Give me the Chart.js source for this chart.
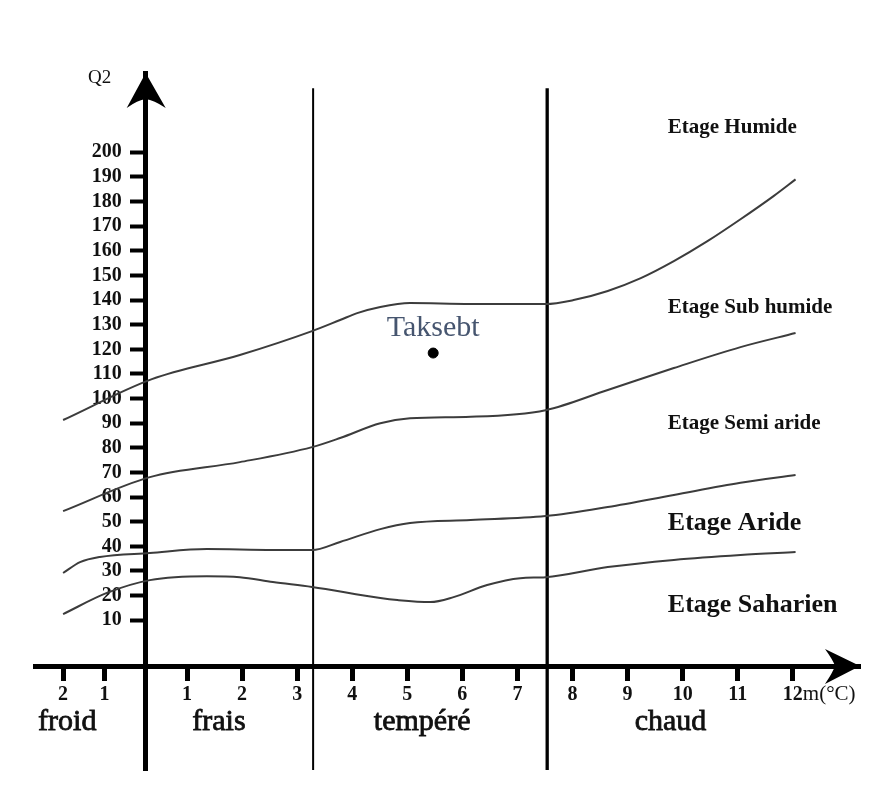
<!DOCTYPE html>
<html lang="fr">
<head>
<meta charset="utf-8">
<title>Climagramme d'Emberger – Taksebt</title>
<script src="https://cdn.jsdelivr.net/npm/chart.js@4.4.1/dist/chart.umd.min.js"></script>
<style>
html,body{margin:0;padding:0;background:#fff;}
#wrap{position:relative;width:878px;height:807px;}
</style>
</head>
<body>
<div id="wrap"><canvas id="chart"></canvas></div>
<script>
// ---------------- data ----------------
// m (°C) ticks : the two left ticks are negative values (-2, -1)
const xTickValues = [-2, -1, 1, 2, 3, 4, 5, 6, 7, 8, 9, 10, 11, 12];
const xTickLabels = ['2', '1', '1', '2', '3', '4', '5', '6', '7', '8', '9', '10', '11', '12'];
// Q2 ticks
const yTickValues = [10, 20, 30, 40, 50, 60, 70, 80, 90, 100, 110, 120, 130, 140, 150, 160, 170, 180, 190, 200];
const yTickLabels = ['10', '20', '30', '40', '50', '60', '70', '80', '90', '100', '110', '120', '130', '140', '150', '160', '170', '180', '190', '200'];

// limit Humide / Sub humide
const limHumideM  = [-2, 0.15, 1.96, 3.27, 3.78, 4.09, 4.51, 5.05, 6.15, 7.51, 8.02, 8.64, 9.24, 9.84, 10.45, 11.05, 11.65, 12.05];
const limHumideQ2 = [91.3, 107.9, 117.7, 127.4, 131.9, 134.7, 137.2, 138.8, 138.4, 138.4, 140.0, 143.7, 148.9, 155.8, 163.9, 172.8, 182.2, 189.0];
// limit Sub humide / Semi aride
const limSubHumM  = [-2, 0.10, 1.96, 3.27, 3.78, 4.51, 5.05, 6.15, 7.51, 8.64, 9.84, 11.05, 12.05];
const limSubHumQ2 = [54.3, 68.1, 74.2, 80.3, 84.0, 90.0, 92.0, 92.6, 95.3, 103.5, 112.4, 120.9, 126.6];
// limit Semi aride / Aride
const limSemiAridM  = [-2, -1.59, -1.11, 0.10, 1.36, 2.56, 3.27, 3.78, 4.51, 5.05, 6.15, 7.51, 8.64, 9.84, 11.05, 12.05];
const limSemiAridQ2 = [29.2, 33.6, 35.7, 37.3, 38.9, 38.5, 38.5, 41.8, 47.0, 49.5, 50.7, 52.3, 56.0, 60.9, 65.8, 69.0];
// limit Aride / Saharien
const limAridM  = [-2, -0.94, 0.10, 1.36, 1.96, 2.56, 3.27, 4.51, 4.82, 5.42, 5.84, 6.45, 7.05, 7.51, 8.64, 9.84, 11.05, 12.05];
const limAridQ2 = [12.5, 21.1, 26.3, 27.9, 27.5, 25.5, 23.5, 19.0, 18.2, 17.4, 19.4, 24.3, 27.1, 27.5, 31.6, 34.5, 36.5, 37.7];

// station
const stationName = 'Taksebt';
const stationM = 5.47;
const stationQ2 = 118.5;

// thermal zones (limits as drawn) and names
const zoneLimitsM = [3.29, 7.54];
const zoneNames = ['froid', 'frais', 'tempéré', 'chaud'];
const etageNames = ['Etage Humide', 'Etage Sub humide', 'Etage Semi aride', 'Etage Aride', 'Etage Saharien'];

// axis extents
const xMin = -2.68, xMax = 13.22;
const yMin = -50.8, yMax = 232.2;
const xAxisAtQ2 = -8.6;

// ---------------- hand-drawn m axis: values below 1 are compressed ----------------
const NEG_COMPRESS = 0.75;
const fwd = v => (v >= 1 ? v : 1 - NEG_COMPRESS * (1 - v));
const inv = f => (f >= 1 ? f : 1 - (1 - f) / NEG_COMPRESS);
class EmbergerScale extends Chart.LinearScale {
  determineDataLimits() {
    super.determineDataLimits();
    this.min = fwd(this.min);
    this.max = fwd(this.max);
  }
  getPixelForValue(v) {
    if (v === null || v === undefined) return NaN;
    return super.getPixelForValue(fwd(v));
  }
  getValueForPixel(p) {
    return inv(super.getValueForPixel(p));
  }
}
EmbergerScale.id = 'emberger';
EmbergerScale.defaults = {};

// Q2 axis placed at m = 0: keep its labels left of the tick marks
class CrossingYScale extends Chart.LinearScale {
  _computeLabelItems(chartArea) {
    const items = super._computeLabelItems(chartArea);
    const o = this.options;
    const shift = (o.grid.drawTicks ? o.grid.tickLength : 0) + o.ticks.padding;
    items.forEach(it => { it.options.translation = [it.options.translation[0] - shift, it.options.translation[1]]; });
    return items;
  }
}
CrossingYScale.id = 'crossingY';
CrossingYScale.defaults = {};
Chart.register(EmbergerScale, CrossingYScale);

// ---------------- chart ----------------
const SERIF = '"Liberation Serif", "Times New Roman", serif';
const pts = (xs, ys) => xs.map((x, i) => ({ x: x, y: ys[i] }));
const curveStyle = {
  type: 'line', borderColor: '#3c3c3c', borderWidth: 2, pointRadius: 0,
  fill: false, cubicInterpolationMode: 'monotone'
};

const labelLayout = {
  etageM: 9.73,
  etageQ2: [207.8, 134.7, 87.6, 46.6, 13.3],
  etageSize: [21, 21, 21, 26, 26],
  zoneM: [-1.9, 1.58, 5.27, 9.78],
  zoneQ2: -34.6
};

const decorPlugin = {
  id: 'decor',
  beforeDraw(chart) {
    const c = chart.ctx;
    c.save();
    c.fillStyle = '#ffffff';
    c.fillRect(0, 0, chart.width, chart.height);
    c.restore();
  },
  afterDraw(chart) {
    const c = chart.ctx;
    const xs = chart.scales.x, ys = chart.scales.y, area = chart.chartArea;
    const ax = xs.getPixelForValue(0);
    const ay = ys.getPixelForValue(xAxisAtQ2);
    c.save();
    c.fillStyle = '#000';
    // arrow on Q2 axis
    c.beginPath();
    c.moveTo(ax, area.top);
    c.lineTo(ax + 20, area.top + 35);
    c.quadraticCurveTo(ax + 8, area.top + 27, ax, area.top + 26);
    c.quadraticCurveTo(ax - 8, area.top + 27, ax - 19, area.top + 35);
    c.closePath();
    c.fill();
    // arrow on m axis
    c.beginPath();
    c.moveTo(area.right, ay);
    c.lineTo(area.right - 35, ay - 17);
    c.quadraticCurveTo(area.right - 27, ay - 6, area.right - 25, ay);
    c.quadraticCurveTo(area.right - 27, ay + 6, area.right - 35, ay + 18);
    c.closePath();
    c.fill();

    c.fillStyle = '#111';
    c.strokeStyle = '#111';
    c.textBaseline = 'alphabetic';
    // axis titles
    c.font = '19px ' + SERIF;
    c.textAlign = 'center';
    c.fillText('Q2', ax - 46, area.top + 10);
    c.font = '21px ' + SERIF;
    c.textAlign = 'left';
    c.fillText('m(°C)', xs.getPixelForValue(12) + 10, ay + 34);

    // zone names
    c.font = '30px ' + SERIF;
    c.textAlign = 'center';
    c.lineWidth = 0.8;
    zoneNames.forEach((t, i) => {
      const px = xs.getPixelForValue(labelLayout.zoneM[i]);
      const py = ys.getPixelForValue(labelLayout.zoneQ2);
      c.fillText(t, px, py);
      c.strokeText(t, px, py);
    });

    // etage names
    c.textAlign = 'left';
    etageNames.forEach((t, i) => {
      c.font = 'bold ' + labelLayout.etageSize[i] + 'px ' + SERIF;
      c.fillText(t, xs.getPixelForValue(labelLayout.etageM), ys.getPixelForValue(labelLayout.etageQ2[i]));
    });

    // station label
    c.font = '30px ' + SERIF;
    c.fillStyle = '#46556f';
    c.textAlign = 'center';
    c.fillText(stationName, xs.getPixelForValue(stationM), ys.getPixelForValue(stationQ2) - 17);
    c.restore();
  }
};

new Chart(document.getElementById('chart'), {
  type: 'line',
  data: {
    datasets: [
      { type: 'line', label: stationName, data: [{ x: stationM, y: stationQ2 }], showLine: false,
        pointRadius: 5, pointBackgroundColor: '#000', pointBorderColor: '#000', pointBorderWidth: 1 },
      Object.assign({ label: 'Humide / Sub humide', data: pts(limHumideM, limHumideQ2) }, curveStyle),
      Object.assign({ label: 'Sub humide / Semi aride', data: pts(limSubHumM, limSubHumQ2) }, curveStyle),
      Object.assign({ label: 'Semi aride / Aride', data: pts(limSemiAridM, limSemiAridQ2) }, curveStyle),
      Object.assign({ label: 'Aride / Saharien', data: pts(limAridM, limAridQ2) }, curveStyle),
      { type: 'line', label: 'frais / tempéré', data: [{ x: zoneLimitsM[0], y: 226 }, { x: zoneLimitsM[0], y: yMin }],
        borderColor: '#000', borderWidth: 2, pointRadius: 0, fill: false },
      { type: 'line', label: 'tempéré / chaud', data: [{ x: zoneLimitsM[1], y: 226 }, { x: zoneLimitsM[1], y: yMin }],
        borderColor: '#000', borderWidth: 3.3, pointRadius: 0, fill: false }
    ]
  },
  options: {
    responsive: true,
    maintainAspectRatio: false,
    animation: false,
    events: [],
    layout: { padding: { left: 35, right: 18, top: 73, bottom: 37 } },
    plugins: { legend: { display: false }, tooltip: { enabled: false }, title: { display: false } },
    scales: {
      x: {
        type: 'emberger',
        position: { y: xAxisAtQ2 },
        min: xMin, max: xMax, bounds: 'data',
        afterBuildTicks: s => { s.ticks = xTickValues.map(v => ({ value: v })); },
        ticks: {
          autoSkip: false, maxRotation: 0, minRotation: 0, padding: 5, color: '#111',
          font: { family: SERIF, size: 20, weight: 'bold' },
          callback: (v, i) => xTickLabels[i]
        },
        grid: { drawOnChartArea: false, drawTicks: true, tickLength: 12, tickWidth: 5, tickColor: '#000' },
        border: { display: true, color: '#000', width: 5 }
      },
      y: {
        type: 'crossingY',
        axis: 'y',
        position: { x: 0 },
        min: yMin, max: yMax,
        afterBuildTicks: s => { s.ticks = yTickValues.map(v => ({ value: v })); },
        ticks: {
          autoSkip: false, padding: 11, color: '#111',
          font: { family: SERIF, size: 20, weight: 'bold' },
          callback: (v, i) => yTickLabels[i]
        },
        grid: { drawOnChartArea: false, drawTicks: true, tickLength: 13, tickWidth: 4, tickColor: '#000' },
        border: { display: true, color: '#000', width: 5 }
      }
    }
  },
  plugins: [decorPlugin]
});
</script>
</body>
</html>
